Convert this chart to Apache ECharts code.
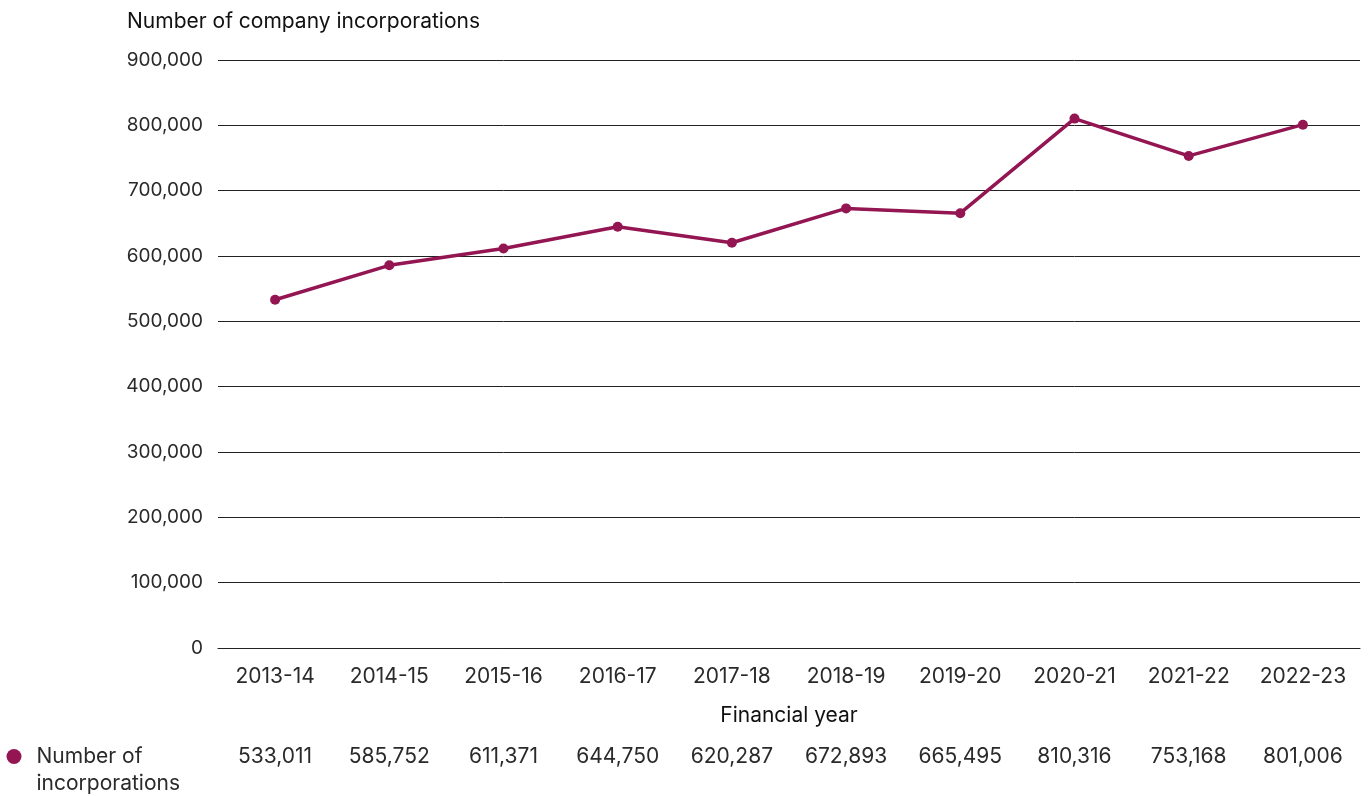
<!DOCTYPE html>
<html>
<head>
<meta charset="utf-8">
<script src="https://cdn.jsdelivr.net/npm/echarts@6/dist/echarts.min.js"></script>
<style>
  html, body { margin: 0; padding: 0; background: #fff; }
  #chart { width: 1368px; height: 796px; }
</style>
</head>
<body>
<div id="chart"></div>
<script>
// data
var years = ['2013-14', '2014-15', '2015-16', '2016-17', '2017-18', '2018-19', '2019-20', '2020-21', '2021-22', '2022-23'];
var incorporations = [533011, 585752, 611371, 644750, 620287, 672893, 665495, 810316, 753168, 801006];
var seriesName = 'Number of incorporations';
var legendLines = ['Number of', 'incorporations'];

var FONT = 'Inter';
var PLUM = '#931552';
var TXT = '#2a2a2a';

var myChart = echarts.init(document.getElementById('chart'));
var option = {
    animation: false,
    textStyle: { fontFamily: FONT },
    title: {
        text: 'Number of company incorporations',
        left: 122, top: 6,
        textStyle: { fontFamily: FONT, fontSize: 21, fontWeight: 'normal', color: '#111' }
    },
    legend: {
        left: 6.5, top: 716, padding: 0,
        itemWidth: 15, itemHeight: 15, itemGap: 8,
        icon: 'circle',
        data: [seriesName],
        // blank first line so the dot sits beside the first text line
        formatter: function () {
            return '\n' + legendLines.map(function (s) { return '{a|' + s + '}'; }).join('\n');
        },
        textStyle: {
            fontFamily: FONT, fontSize: 21, color: TXT, lineHeight: 27,
            rich: { a: { fontFamily: FONT, fontSize: 21, color: TXT, lineHeight: 27, padding: [0, 0, 0, 10] } }
        }
    },
    grid: { left: 218, right: 8, top: 60, bottom: 148, containLabel: false },
    xAxis: [{
        type: 'category',
        data: years,
        name: 'Financial year',
        nameLocation: 'middle',
        nameGap: 57,
        nameTextStyle: { fontFamily: FONT, fontSize: 21, color: '#111' },
        axisLine: { lineStyle: { color: '#222', width: 1 } },
        axisTick: { alignWithLabel: true, length: 6, lineStyle: { color: '#222' } },
        axisLabel: { margin: 18, fontSize: 21, color: TXT, fontFamily: FONT }
    }, {
        type: 'category',
        position: 'bottom',
        data: incorporations.map(function (v) { return v.toLocaleString('en-US'); }),
        axisLine: { show: false },
        axisTick: { show: false },
        splitLine: { show: false },
        axisLabel: { margin: 98, fontSize: 21, color: TXT, fontFamily: FONT }
    }],
    yAxis: {
        type: 'value',
        min: 0, max: 900000, interval: 100000,
        axisLine: { show: false },
        axisTick: { show: false },
        splitLine: { lineStyle: { color: '#222', width: 1 } },
        axisLabel: {
            margin: 15, fontSize: 19, color: TXT, fontFamily: FONT,
            formatter: function (v) { return v.toLocaleString('en-US'); }
        }
    },
    series: [{
        name: seriesName,
        type: 'line',
        data: incorporations,
        symbol: 'circle',
        symbolSize: 10,
        lineStyle: { color: PLUM, width: 3.5 },
        itemStyle: { color: PLUM }
    }]
};
myChart.setOption(option, true);
</script>
</body>
</html>
